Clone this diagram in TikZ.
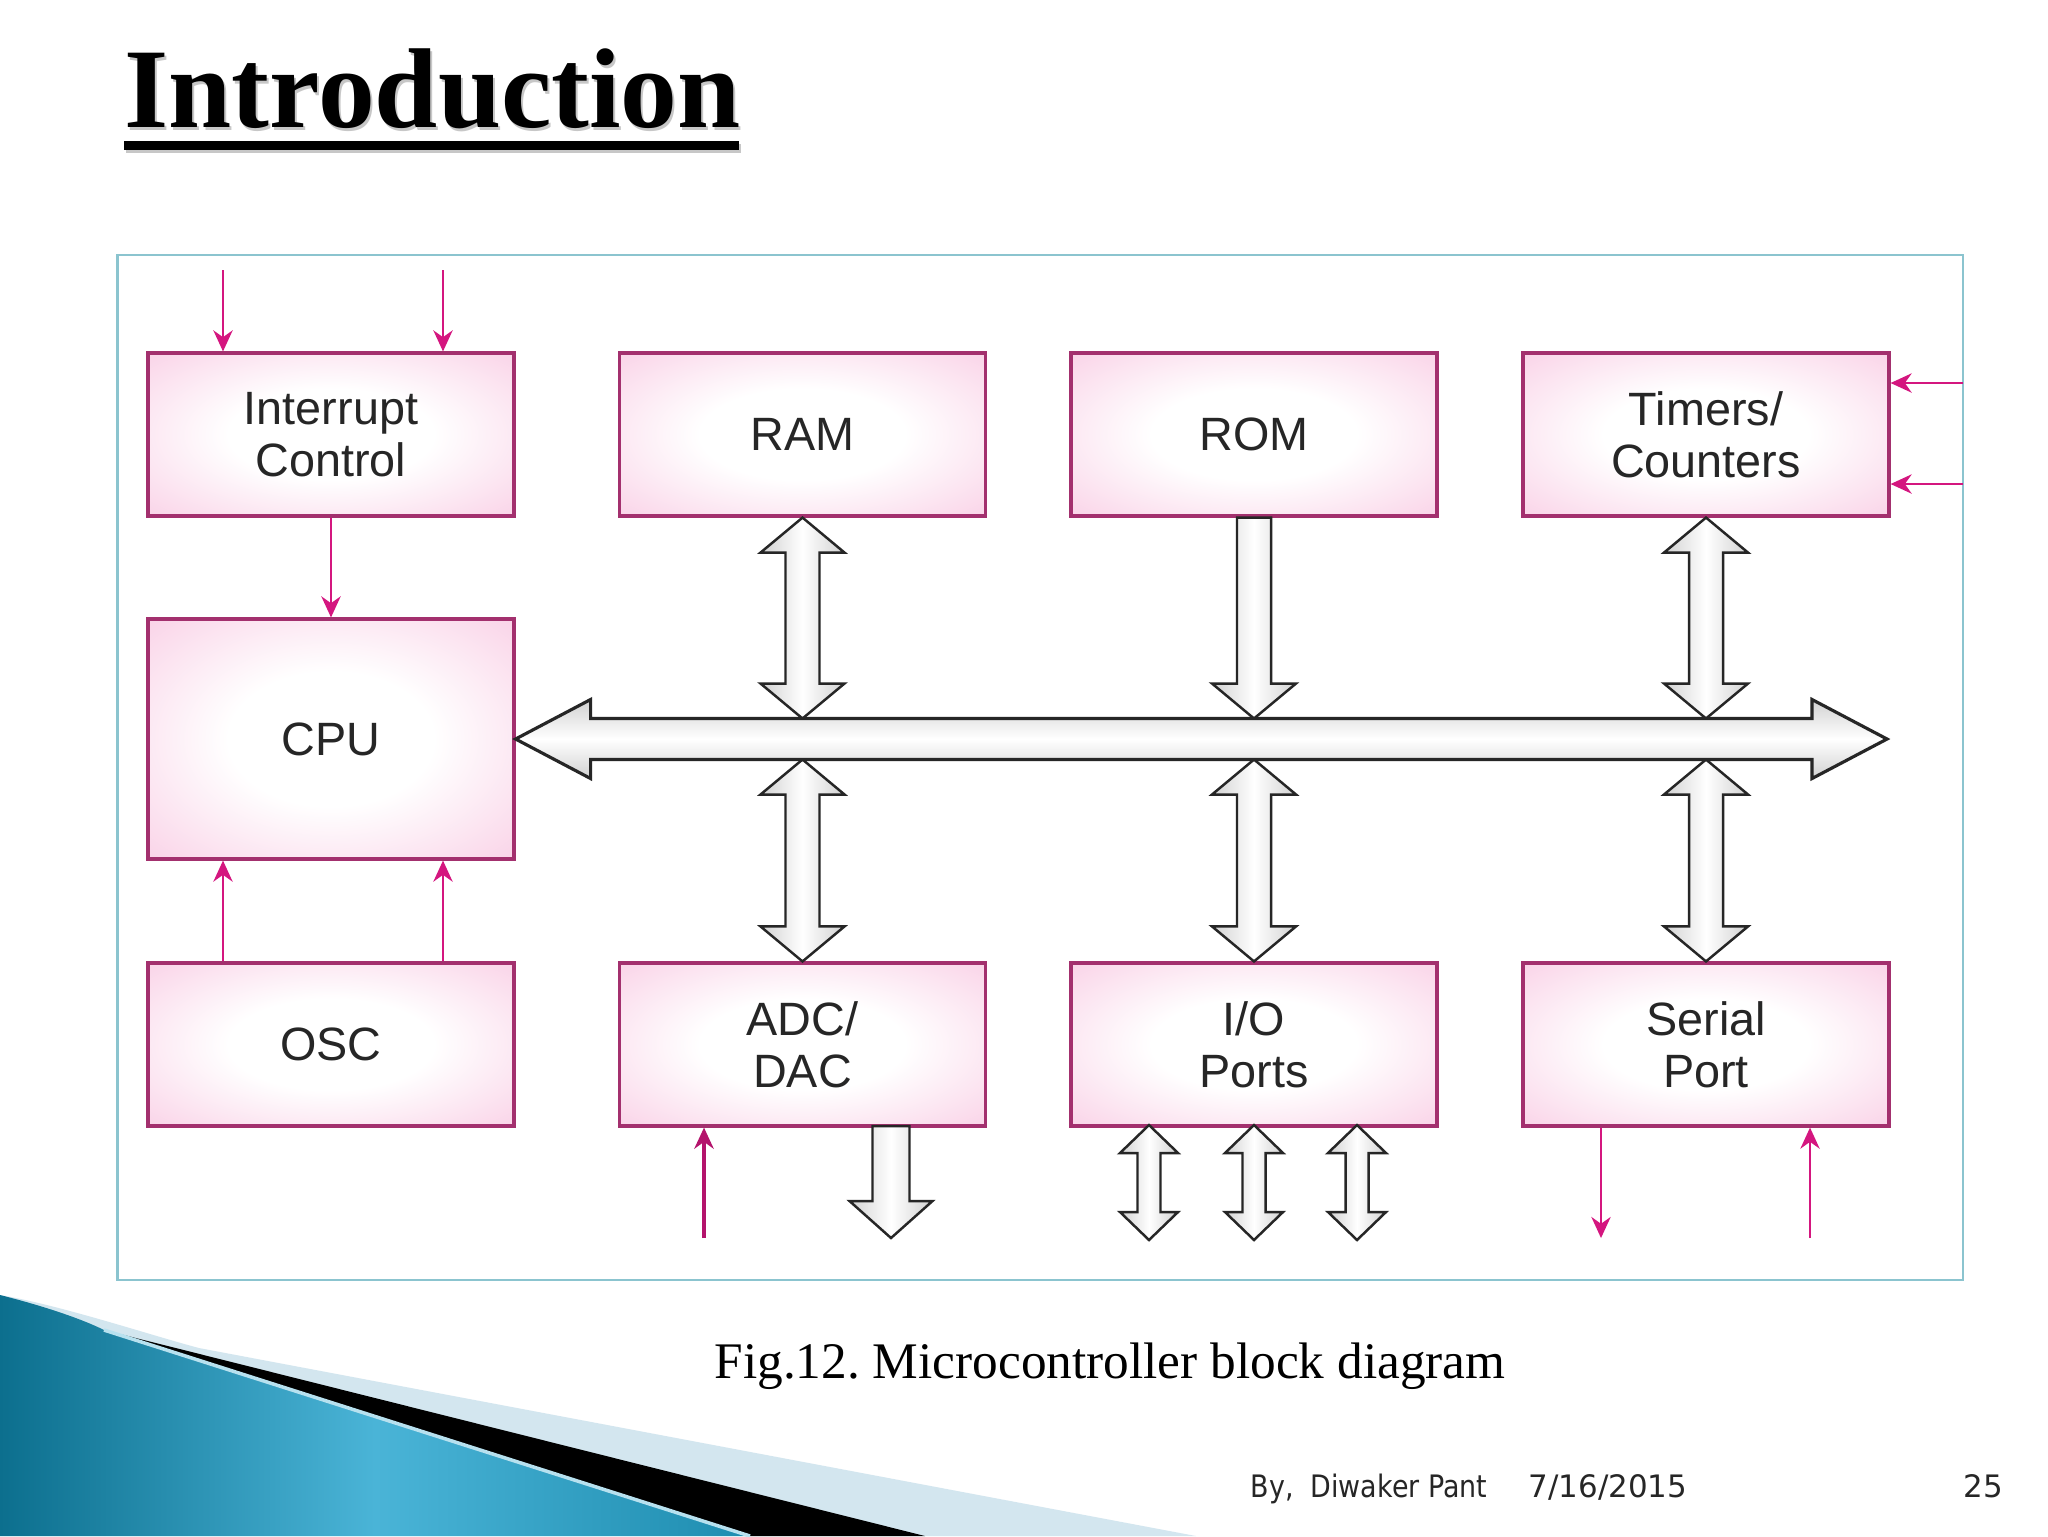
\documentclass[tikz,border=0pt]{standalone}
\usepackage{fontspec}
\setmainfont{Liberation Serif}
\newfontfamily\boxfont{Liberation Sans}
\newfontfamily\footfont{DejaVu Sans}
\usetikzlibrary{arrows.meta,calc}
\frenchspacing
\definecolor{boxpink}{HTML}{F6B6D8}
\definecolor{boxline}{HTML}{A3306E}
\definecolor{mag}{HTML}{D4167F}
\definecolor{frameblue}{HTML}{8BC4CF}
\definecolor{tealA}{HTML}{0C6F8E}
\definecolor{tealB}{HTML}{4AB4D7}
\definecolor{tealC}{HTML}{1E8DB0}
\definecolor{paleblue}{HTML}{D3E6EF}
\pgfdeclareradialshading{boxshade}{\pgfpoint{0bp}{0bp}}{color(0bp)=(white); color(14bp)=(white); color(50bp)=(boxpink)}
\newcommand\vdbl[5]{%
 \draw[barrowv] #1 -- ++(#4,#5) -- ++({#3-#4},0) -- ($#2+(#3,-#5)$) -- ++({#4-#3},0) -- #2 -- ++(-#4,-#5) -- ++({#4-#3},0) -- ($#1+(-#3,#5)$) -- ++({#3-#4},0) -- cycle;}
\newcommand\vsgl[5]{%
 \draw[barrowv] ($#1+(-#3,0)$) -- ($#1+(#3,0)$) -- ($#2+(#3,-#5)$) -- ++({#4-#3},0) -- #2 -- ++(-#4,-#5) -- ++({#4-#3},0) -- cycle;}
\tikzset{
 blk/.style={draw=boxline, line width=0.9pt, shade, shading=boxshade, minimum width=36.6mm, minimum height=16.3mm, inner sep=0pt, align=center, font=\boxfont\fontsize{13.3}{14.8}\selectfont, text=black!85},
 marrow/.style={draw=mag, line width=0.6pt, -{Stealth[length=6pt,width=5.5pt]}},
 barrowv/.style={draw=black!85, line width=0.7pt, left color=black!18, right color=black!18, middle color=white, line join=miter},
 barrowh/.style={draw=black!85, line width=0.9pt, top color=black!18, bottom color=black!18, middle color=white, line join=miter},
 titlefont/.style={inner sep=0pt, anchor=base west, font=\bfseries\fontsize{32.3}{36}\selectfont},
 foot/.style={inner sep=0pt, anchor=base west, font=\footfont\fontsize{8.8}{10}\selectfont, text=black!85},
}
\begin{document}
\begin{tikzpicture}[x=0.1mm,y=-0.1mm]
\useasboundingbox (0,0) rectangle (2048,1536);
\fill[white] (0,0) rectangle (2048,1536);
% bottom-left decoration
\fill[paleblue] (0,1295) .. controls (60,1305) and (150,1335) .. (199,1348) -- (1196,1536) -- (0,1536) -- cycle;
\fill[black] (104,1330) -- (925,1536) -- (750,1536) -- cycle;
\shade[left color=tealA, right color=tealC, middle color=tealB] (0,1295) .. controls (40,1305) and (80,1318) .. (104,1330) -- (750,1536) -- (0,1536) -- cycle;
\draw[white!60!tealB, line width=1pt] (104,1330) -- (750,1536);
% title
\node[titlefont, text=black!22] (titleshadow) at (126,130) {Introduction};
\node[titlefont, text=black] (title) at (124,127) {Introduction};
\fill[black!22] (126,144) rectangle (741,153);
\fill[black] (124,141) rectangle (739,150);
% frame
\draw[frameblue, line width=0.6pt] (117.5,254.7) rectangle (1963,1280);
% blocks
\node[blk] (ic) at (331,434.5) {Interrupt\\Control};
\node[blk] (ram) at (802.5,434.5) {RAM};
\node[blk] (rom) at (1254,434.5) {ROM};
\node[blk] (tim) at (1706,434.5) {Timers/\\Counters};
\node[blk, minimum height=24mm] (cpu) at (331,739) {CPU};
\node[blk] (osc) at (331,1044.5) {OSC};
\node[blk] (adc) at (802.5,1044.5) {ADC/\\DAC};
\node[blk] (io) at (1254,1044.5) {I/O\\Ports};
\node[blk] (ser) at (1706,1044.5) {Serial\\Port};
% coordinates
\coordinate (busR) at (1887,739);
\coordinate (bustop) at (0,718.5);
\coordinate (busbot) at (0,759.5);
\coordinate (ramT) at (ram.south |- bustop);
\coordinate (romT) at (rom.south |- bustop);
\coordinate (timT) at (tim.south |- bustop);
\coordinate (adcB) at (adc.north |- busbot);
\coordinate (ioB) at (io.north |- busbot);
\coordinate (serB) at (ser.north |- busbot);
\coordinate (io1) at (1149,1125);
\coordinate (io2) at (1254,1125);
\coordinate (io3) at (1357,1125);
\coordinate (io1e) at (1149,1240);
\coordinate (io2e) at (1254,1240);
\coordinate (io3e) at (1357,1240);
\coordinate (adcoT) at (891,1126);
\coordinate (adcoB) at (891,1238);
% vertical block arrows
\vdbl{(ram.south)}{(ramT)}{17}{42}{35}
\vsgl{(rom.south)}{(romT)}{17}{42}{35}
\vdbl{(tim.south)}{(timT)}{17}{42}{35}
\vdbl{(adcB)}{(adc.north)}{17}{42}{35}
\vdbl{(ioB)}{(io.north)}{17}{42}{35}
\vdbl{(serB)}{(ser.north)}{17}{42}{35}
\vdbl{(io1)}{(io1e)}{11.5}{29}{28}
\vdbl{(io2)}{(io2e)}{11.5}{29}{28}
\vdbl{(io3)}{(io3e)}{11.5}{29}{28}
\vsgl{(adcoT)}{(adcoB)}{18.5}{41.5}{37}
% bus
\draw[barrowh] (cpu.east) -- ++(75,-39.5) -- ++(0,19) -- ($(busR)+(-75,-20.5)$) -- ++(0,-19) -- (busR) -- ++(-75,39.5) -- ++(0,-19) -- ($(cpu.east)+(75,20.5)$) -- ++(0,19) -- cycle;
% magenta signal arrows
\coordinate (in1) at (223,270);
\coordinate (in2) at (443,270);
\draw[marrow] (in1) -- (in1 |- ic.north);
\draw[marrow] (in2) -- (in2 |- ic.north);
\draw[marrow] (ic.south) -- (cpu.north);
\draw[marrow] (osc.north -| in1) -- (cpu.south -| in1);
\draw[marrow] (osc.north -| in2) -- (cpu.south -| in2);
\coordinate (t1) at (1963,383);
\coordinate (t2) at (1963,484);
\draw[marrow] (t1) -- (t1 -| tim.east);
\draw[marrow] (t2) -- (t2 -| tim.east);
\coordinate (a1) at (704,1238);
\draw[marrow, line width=1.2pt, draw=mag!85!black] (a1) -- (a1 |- adc.south);
\coordinate (s1) at (1601,1238);
\coordinate (s2) at (1810,1238);
\draw[marrow] (ser.south -| s1) -- (s1);
\draw[marrow] (s2) -- (s2 |- ser.south);
% caption and footer
\node[inner sep=0pt, anchor=base, font=\fontsize{14.6}{16}\selectfont] (cap) at (1110,1378) {Fig.12. Microcontroller block diagram};
\node[foot] (by) at (1250,1497) {\scalebox{0.87}[1]{By,\ \ Diwaker Pant}};
\node[foot] (date) at (1528,1497) {7/16/2015};
\node[foot] (page) at (1963,1497) {25};
\end{tikzpicture}
\end{document}
